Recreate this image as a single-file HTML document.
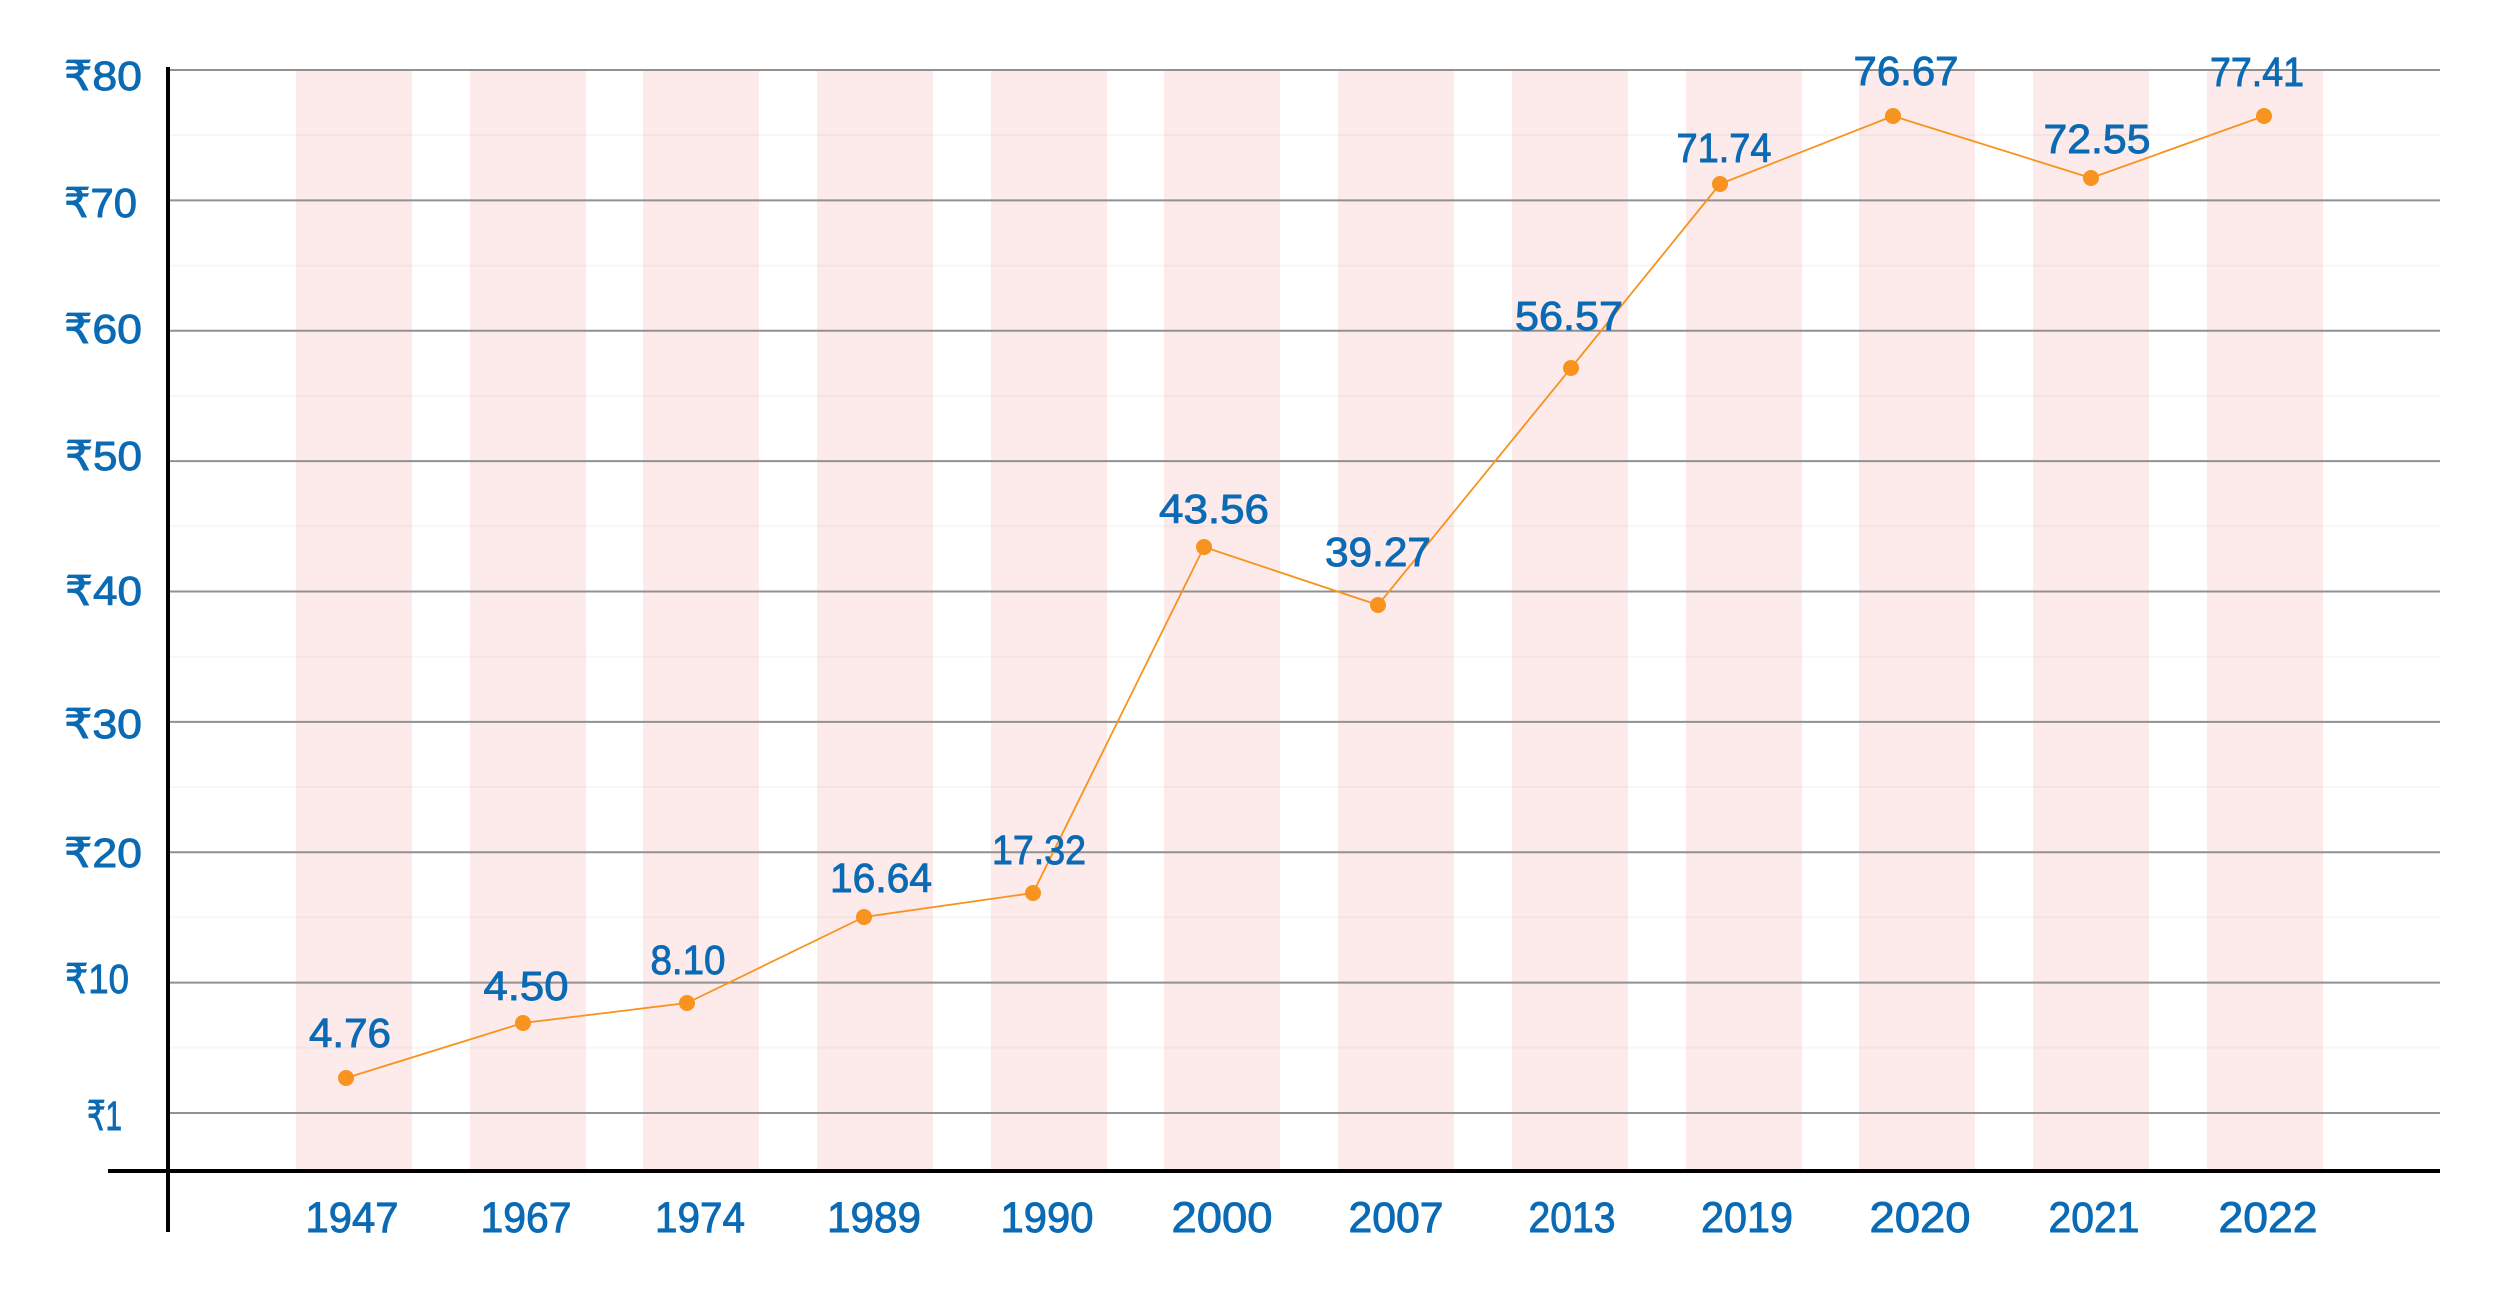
<!DOCTYPE html>
<html>
<head>
<meta charset="utf-8">
<style>
  html, body { margin: 0; padding: 0; background: #ffffff; }
  body { width: 2500px; height: 1308px; overflow: hidden; }
  svg { display: block; }
  .t { font-family: "Liberation Sans", "DejaVu Sans", sans-serif; fill: #0a6ab4; stroke: #0a6ab4; stroke-width: 0.9; }
</style>
</head>
<body>
<svg width="2500" height="1308" viewBox="0 0 2500 1308" xmlns="http://www.w3.org/2000/svg">
  <rect x="0" y="0" width="2500" height="1308" fill="#ffffff"/>

  <!-- stripes -->
  <g fill="#fdeaea">
    <rect x="296" y="70" width="116" height="1100"/>
    <rect x="470" y="70" width="116" height="1100"/>
    <rect x="643" y="70" width="116" height="1100"/>
    <rect x="817" y="70" width="116" height="1100"/>
    <rect x="991" y="70" width="116" height="1100"/>
    <rect x="1164" y="70" width="116" height="1100"/>
    <rect x="1338" y="70" width="116" height="1100"/>
    <rect x="1512" y="70" width="116" height="1100"/>
    <rect x="1686" y="70" width="116" height="1100"/>
    <rect x="1859" y="70" width="116" height="1100"/>
    <rect x="2033" y="70" width="116" height="1100"/>
    <rect x="2207" y="70" width="116" height="1100"/>
  </g>

  <!-- minor gridlines -->
  <g stroke="#000000" stroke-opacity="0.03" stroke-width="2">
    <line x1="170" y1="135" x2="2440" y2="135"/>
    <line x1="170" y1="265.6" x2="2440" y2="265.6"/>
    <line x1="170" y1="396" x2="2440" y2="396"/>
    <line x1="170" y1="526.3" x2="2440" y2="526.3"/>
    <line x1="170" y1="656.7" x2="2440" y2="656.7"/>
    <line x1="170" y1="787" x2="2440" y2="787"/>
    <line x1="170" y1="917.4" x2="2440" y2="917.4"/>
    <line x1="170" y1="1047.8" x2="2440" y2="1047.8"/>
  </g>

  <!-- major gridlines -->
  <g stroke="#919191" stroke-width="2">
    <line x1="170" y1="70" x2="2440" y2="70"/>
    <line x1="170" y1="200.4" x2="2440" y2="200.4"/>
    <line x1="170" y1="330.8" x2="2440" y2="330.8"/>
    <line x1="170" y1="461.1" x2="2440" y2="461.1"/>
    <line x1="170" y1="591.5" x2="2440" y2="591.5"/>
    <line x1="170" y1="721.9" x2="2440" y2="721.9"/>
    <line x1="170" y1="852.3" x2="2440" y2="852.3"/>
    <line x1="170" y1="982.6" x2="2440" y2="982.6"/>
    <line x1="170" y1="1113" x2="2440" y2="1113"/>
  </g>

  <!-- axes -->
  <line x1="168" y1="67" x2="168" y2="1232" stroke="#000" stroke-width="4"/>
  <line x1="108" y1="1171" x2="2440" y2="1171" stroke="#000" stroke-width="4"/>

  <!-- y labels -->
  <g class="t" font-size="41">
    <text x="64" y="90" textLength="78" lengthAdjust="spacingAndGlyphs">₹80</text>
    <text x="64" y="217" textLength="73" lengthAdjust="spacingAndGlyphs">₹70</text>
    <text x="64" y="343" textLength="78" lengthAdjust="spacingAndGlyphs">₹60</text>
    <text x="65" y="470" textLength="77" lengthAdjust="spacingAndGlyphs">₹50</text>
    <text x="65" y="605" textLength="77" lengthAdjust="spacingAndGlyphs">₹40</text>
    <text x="64" y="738" textLength="78" lengthAdjust="spacingAndGlyphs">₹30</text>
    <text x="64" y="867" textLength="78" lengthAdjust="spacingAndGlyphs">₹20</text>
    <text x="65" y="993" textLength="64" lengthAdjust="spacingAndGlyphs">₹10</text>
    <text x="87" y="1130" textLength="35" lengthAdjust="spacingAndGlyphs">₹1</text>
  </g>

  <!-- x labels -->
  <g class="t" font-size="43" text-anchor="middle">
    <text x="352" y="1232" textLength="93" lengthAdjust="spacingAndGlyphs">1947</text>
    <text x="526" y="1232" textLength="91" lengthAdjust="spacingAndGlyphs">1967</text>
    <text x="700" y="1232" textLength="90" lengthAdjust="spacingAndGlyphs">1974</text>
    <text x="874" y="1232" textLength="94" lengthAdjust="spacingAndGlyphs">1989</text>
    <text x="1047" y="1232" textLength="93" lengthAdjust="spacingAndGlyphs">1990</text>
    <text x="1222" y="1232" textLength="101" lengthAdjust="spacingAndGlyphs">2000</text>
    <text x="1396" y="1232" textLength="95" lengthAdjust="spacingAndGlyphs">2007</text>
    <text x="1572" y="1232" textLength="87" lengthAdjust="spacingAndGlyphs">2013</text>
    <text x="1747" y="1232" textLength="92" lengthAdjust="spacingAndGlyphs">2019</text>
    <text x="1920" y="1232" textLength="101" lengthAdjust="spacingAndGlyphs">2020</text>
    <text x="2094" y="1232" textLength="91" lengthAdjust="spacingAndGlyphs">2021</text>
    <text x="2268" y="1232" textLength="99" lengthAdjust="spacingAndGlyphs">2022</text>
  </g>

  <!-- series line -->
  <polyline fill="none" stroke="#f7931e" stroke-width="1.8" stroke-linejoin="round"
    points="346,1078 523,1023 687,1003 864,917 1033,893 1204,547 1378,605 1571,368 1720,184 1893,116 2091,178 2264,116"/>

  <!-- points -->
  <g fill="#f7931e">
    <circle cx="346" cy="1078" r="8"/>
    <circle cx="523" cy="1023" r="8"/>
    <circle cx="687" cy="1003" r="8"/>
    <circle cx="864" cy="917" r="8"/>
    <circle cx="1033" cy="893" r="8"/>
    <circle cx="1204" cy="547" r="8"/>
    <circle cx="1378" cy="605" r="8"/>
    <circle cx="1571" cy="368" r="8"/>
    <circle cx="1720" cy="184" r="8"/>
    <circle cx="1893" cy="116" r="8"/>
    <circle cx="2091" cy="178" r="8"/>
    <circle cx="2264" cy="116" r="8"/>
  </g>

  <!-- value labels -->
  <g class="t" font-size="41" text-anchor="middle">
    <text x="350" y="1047" textLength="82" lengthAdjust="spacingAndGlyphs">4.76</text>
    <text x="526" y="1000" textLength="85" lengthAdjust="spacingAndGlyphs">4.50</text>
    <text x="688" y="974" textLength="75" lengthAdjust="spacingAndGlyphs">8.10</text>
    <text x="881" y="892" textLength="102" lengthAdjust="spacingAndGlyphs">16.64</text>
    <text x="1039" y="864" textLength="94" lengthAdjust="spacingAndGlyphs">17.32</text>
    <text x="1214" y="523" textLength="110" lengthAdjust="spacingAndGlyphs">43.56</text>
    <text x="1378" y="566" textLength="106" lengthAdjust="spacingAndGlyphs">39.27</text>
    <text x="1569" y="330" textLength="108" lengthAdjust="spacingAndGlyphs">56.57</text>
    <text x="1724" y="162" textLength="95" lengthAdjust="spacingAndGlyphs">71.74</text>
    <text x="1906" y="85" textLength="105" lengthAdjust="spacingAndGlyphs">76.67</text>
    <text x="2097" y="153" textLength="107" lengthAdjust="spacingAndGlyphs">72.55</text>
    <text x="2257" y="86" textLength="94" lengthAdjust="spacingAndGlyphs">77.41</text>
  </g>
</svg>
</body>
</html>
